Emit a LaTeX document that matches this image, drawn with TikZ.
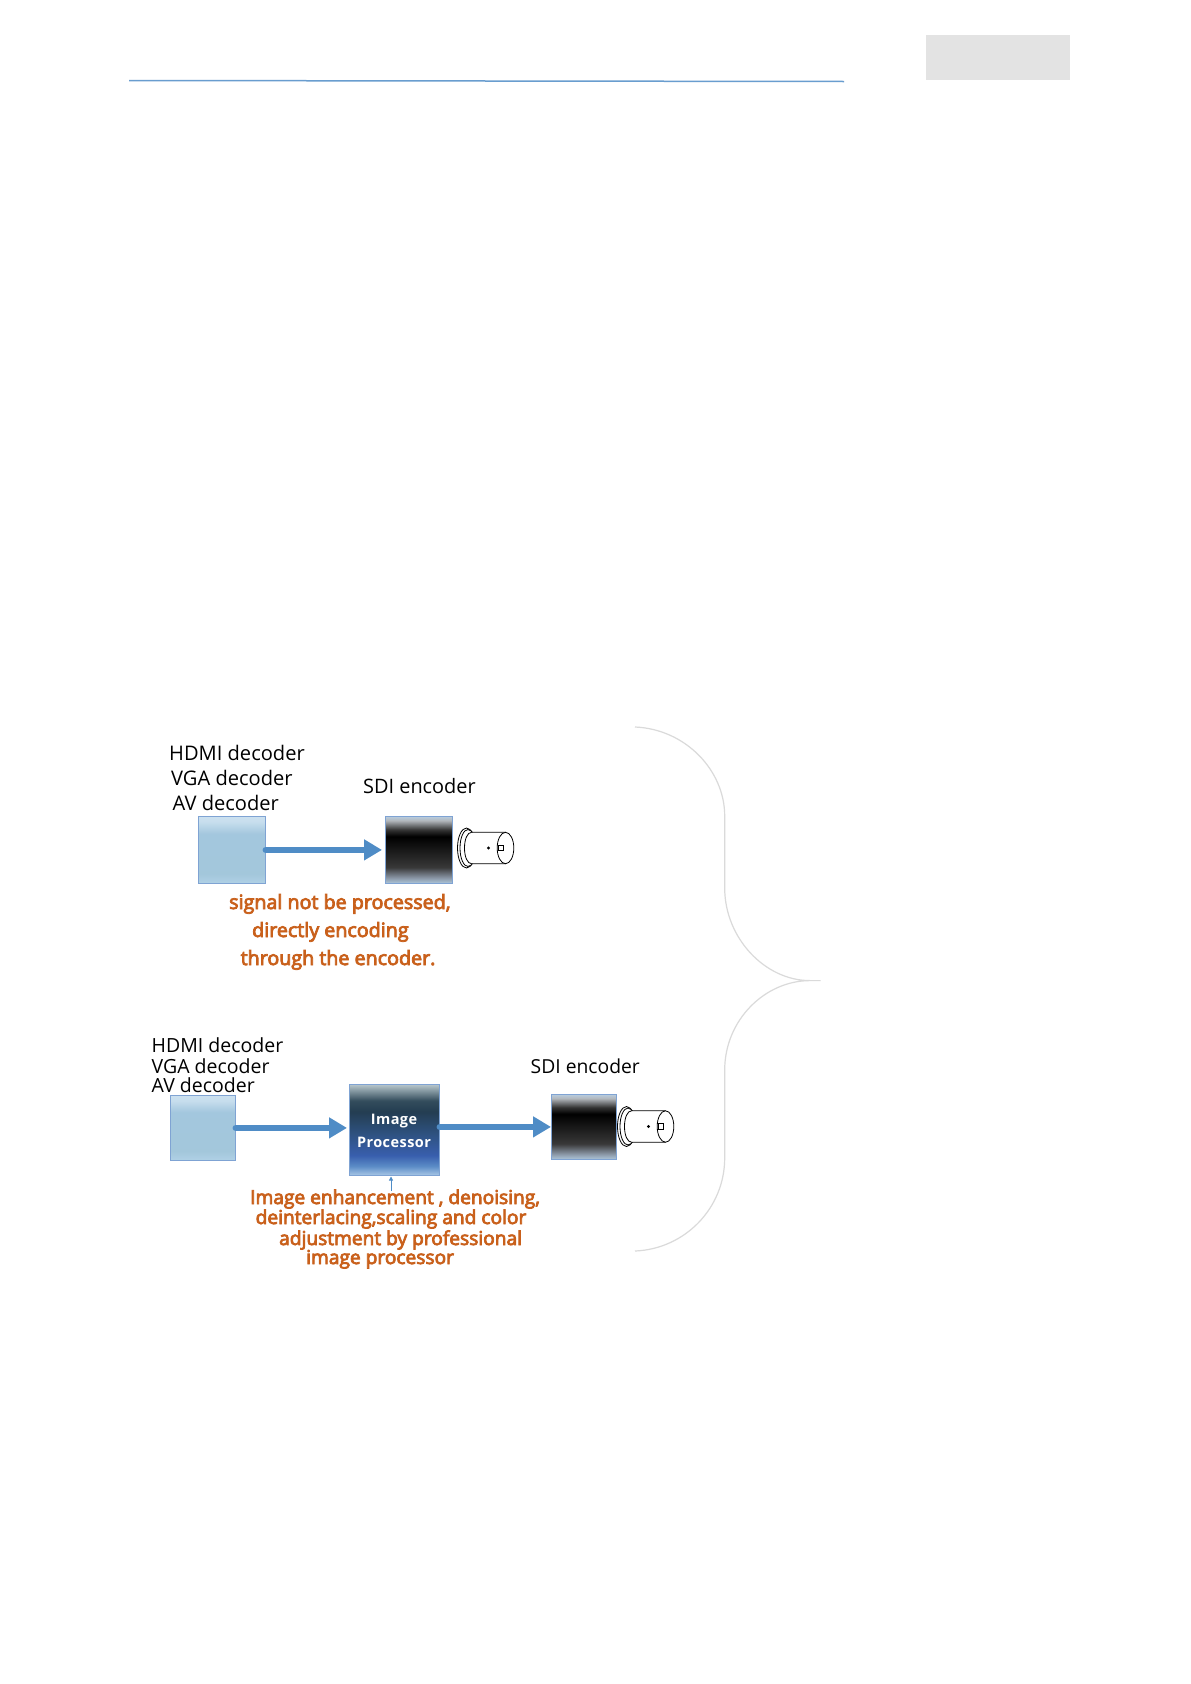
\documentclass[tikz,border=0pt]{standalone}
\usepackage{fontspec}
\setmainfont{Open Sans}
\newfontfamily\lblfont[LetterSpace=3]{Open Sans}
\newfontfamily\orangefont[FakeBold=4]{Open Sans}
\usetikzlibrary{arrows.meta}
\definecolor{edgeblue}{HTML}{7FA3D3}
\definecolor{arrowblue}{HTML}{4F8CC6}
\definecolor{orangetxt}{HTML}{C9601B}
\definecolor{bracegray}{HTML}{DADADA}
\pgfdeclareverticalshading{decshade}{100bp}{rgb(0bp)=(0.69,0.82,0.90); rgb(25bp)=(0.69,0.82,0.90); rgb(32bp)=(0.64,0.78,0.86); rgb(62bp)=(0.64,0.78,0.87); rgb(71bp)=(0.78,0.87,0.93); rgb(75bp)=(0.80,0.88,0.94); rgb(100bp)=(0.80,0.88,0.94)}
\pgfdeclareverticalshading{sdishade}{100bp}{rgb(0bp)=(0.68,0.78,0.86); rgb(25bp)=(0.68,0.78,0.86); rgb(29bp)=(0.55,0.60,0.66); rgb(37bp)=(0.22,0.22,0.22); rgb(60bp)=(0.0,0.0,0.0); rgb(65bp)=(0.20,0.20,0.20); rgb(72bp)=(0.70,0.72,0.74); rgb(75bp)=(0.72,0.80,0.87); rgb(100bp)=(0.72,0.80,0.87)}
\pgfdeclareverticalshading{ipshade}{100bp}{rgb(0bp)=(0.66,0.78,0.90); rgb(25bp)=(0.66,0.78,0.90); rgb(30bp)=(0.36,0.55,0.78); rgb(36bp)=(0.22,0.37,0.68); rgb(48bp)=(0.18,0.32,0.50); rgb(60bp)=(0.14,0.24,0.32); rgb(66bp)=(0.20,0.30,0.36); rgb(75bp)=(0.72,0.78,0.80); rgb(100bp)=(0.72,0.78,0.80)}
\tikzset{
  x=1pt,y=-1pt,
  boxnode/.style={draw=edgeblue,line width=.8pt,inner sep=0pt,anchor=north west},
  flowarrow/.style={draw=arrowblue,line width=6.5pt,-{Triangle[length=18pt,width=20pt,fill=arrowblue]},line cap=round},
  blacktxt/.style={inner sep=0pt,anchor=base west,font=\fontsize{#1}{22}\selectfont,text=black},
  blacktxt/.default=19.5,
  orangelbl/.style={inner sep=0pt,anchor=base west,font=\fontsize{#1}{22}\selectfont\orangefont,text=orangetxt},
  orangelbl/.default=19.15,
  whitetxt/.style={inner sep=0pt,anchor=base,font=\fontsize{14.5}{18}\selectfont\lblfont\bfseries,text=white},
  bnc/.pic={
    \draw[line width=.8pt,fill=white] (9,0) ellipse [x radius=9,y radius=20];
    \draw[line width=.8pt,fill=white] (10.5,0) ellipse [x radius=8,y radius=18.5];
    \draw[line width=.8pt,fill=white] (48,-15.7) -- (14,-15.7) .. controls (10,-15.7) and (7,-9) .. (7,0) .. controls (7,9) and (10,15.7) .. (14,15.7) -- (48,15.7);
    \draw[line width=.8pt,fill=white] (48,0) ellipse [x radius=8.3,y radius=15.7];
    \draw[line width=.8pt] (41,-3) rectangle (46,2.5);
    \draw[line width=.8pt] (31,0) circle (1);
  }
}
\begin{document}
\begin{tikzpicture}
\useasboundingbox[fill=white] (0,0) rectangle (1191,1684);
% header
\fill[fill=white!89!black] (926,34.5) rectangle (1070,80);
\coordinate (headL) at (129,80.5);
\coordinate (headR) at (844,81.5);
\draw[draw=arrowblue!85!white,line width=1.5pt] (headL) -- (headR);
% top row
\node[boxnode,shading=decshade,minimum width=67pt,minimum height=67pt] (decA) at (198,816) {};
\node[boxnode,shading=sdishade,minimum width=67pt,minimum height=67pt] (sdiA) at (385,816) {};
\draw[flowarrow] (decA.east) -- ([xshift=-3pt]sdiA.west);
\pic at (457.5,848) {bnc};
\node[blacktxt=20.1] (t1) at (169,760) {HDMI decoder};
\node[blacktxt=20.1] (t2) at (171,785) {VGA decoder};
\node[blacktxt=20.1] (t3) at (172.5,810) {AV decoder};
\node[blacktxt=19.9] (t4) at (363,793) {SDI encoder};
\node[orangelbl=19.7] (o1) at (229,909) {signal not be processed,};
\node[orangelbl=19.7] (o2) at (252,937) {directly encoding};
\node[orangelbl=19.7] (o3) at (240.5,965) {through the encoder.};
% bottom row
\node[boxnode,shading=decshade,minimum width=65pt,minimum height=65pt] (decB) at (170,1095) {};
\node[boxnode,shading=ipshade,minimum width=90pt,minimum height=91pt] (proc) at (349,1084) {};
\node[boxnode,shading=sdishade,minimum width=65pt,minimum height=65pt] (sdiB) at (551,1094) {};
\draw[flowarrow] (decB.east) -- ([xshift=-2pt]proc.west |- decB.east);
\draw[flowarrow] (proc.east |- sdiB.west) -- (sdiB.west);
\pic at (617.5,1126.5) {bnc};
\node[whitetxt] (w1) at (394,1124) {Image};
\node[whitetxt] (w2) at (394,1147) {Processor};
\coordinate (note) at (391,1191);
\draw[draw=arrowblue,line width=.7pt,-{Triangle[length=4pt,width=4pt]}] (note) -- (391,1176.5);
\node[blacktxt] (t5) at (151.5,1052) {HDMI decoder};
\node[blacktxt] (t6) at (151.5,1073) {VGA decoder};
\node[blacktxt] (t7) at (151.5,1092) {AV decoder};
\node[blacktxt=19.3] (t8) at (530.5,1073) {SDI encoder};
\node[orangelbl] (o4) at (250,1204) {Image enhancement , denoising,};
\node[orangelbl] (o5) at (255.5,1224) {deinterlacing,scaling and color};
\node[orangelbl] (o6) at (279,1245) {adjustment by professional};
\node[orangelbl] (o7) at (306,1264) {image processor};
% brace
\draw[draw=bracegray,line width=1.2pt] (635,727) .. controls (685,729) and (724.7,770) .. (724.7,816)
  -- (724.7,888) .. controls (724.7,938) and (765,980.6) .. (810,980.6) -- (820.6,980.6)
  (810,980.6) .. controls (765,980.6) and (724.7,1020) .. (724.7,1070)
  -- (724.7,1158) .. controls (724.7,1208) and (685,1249) .. (635,1251);
\end{tikzpicture}
\end{document}
